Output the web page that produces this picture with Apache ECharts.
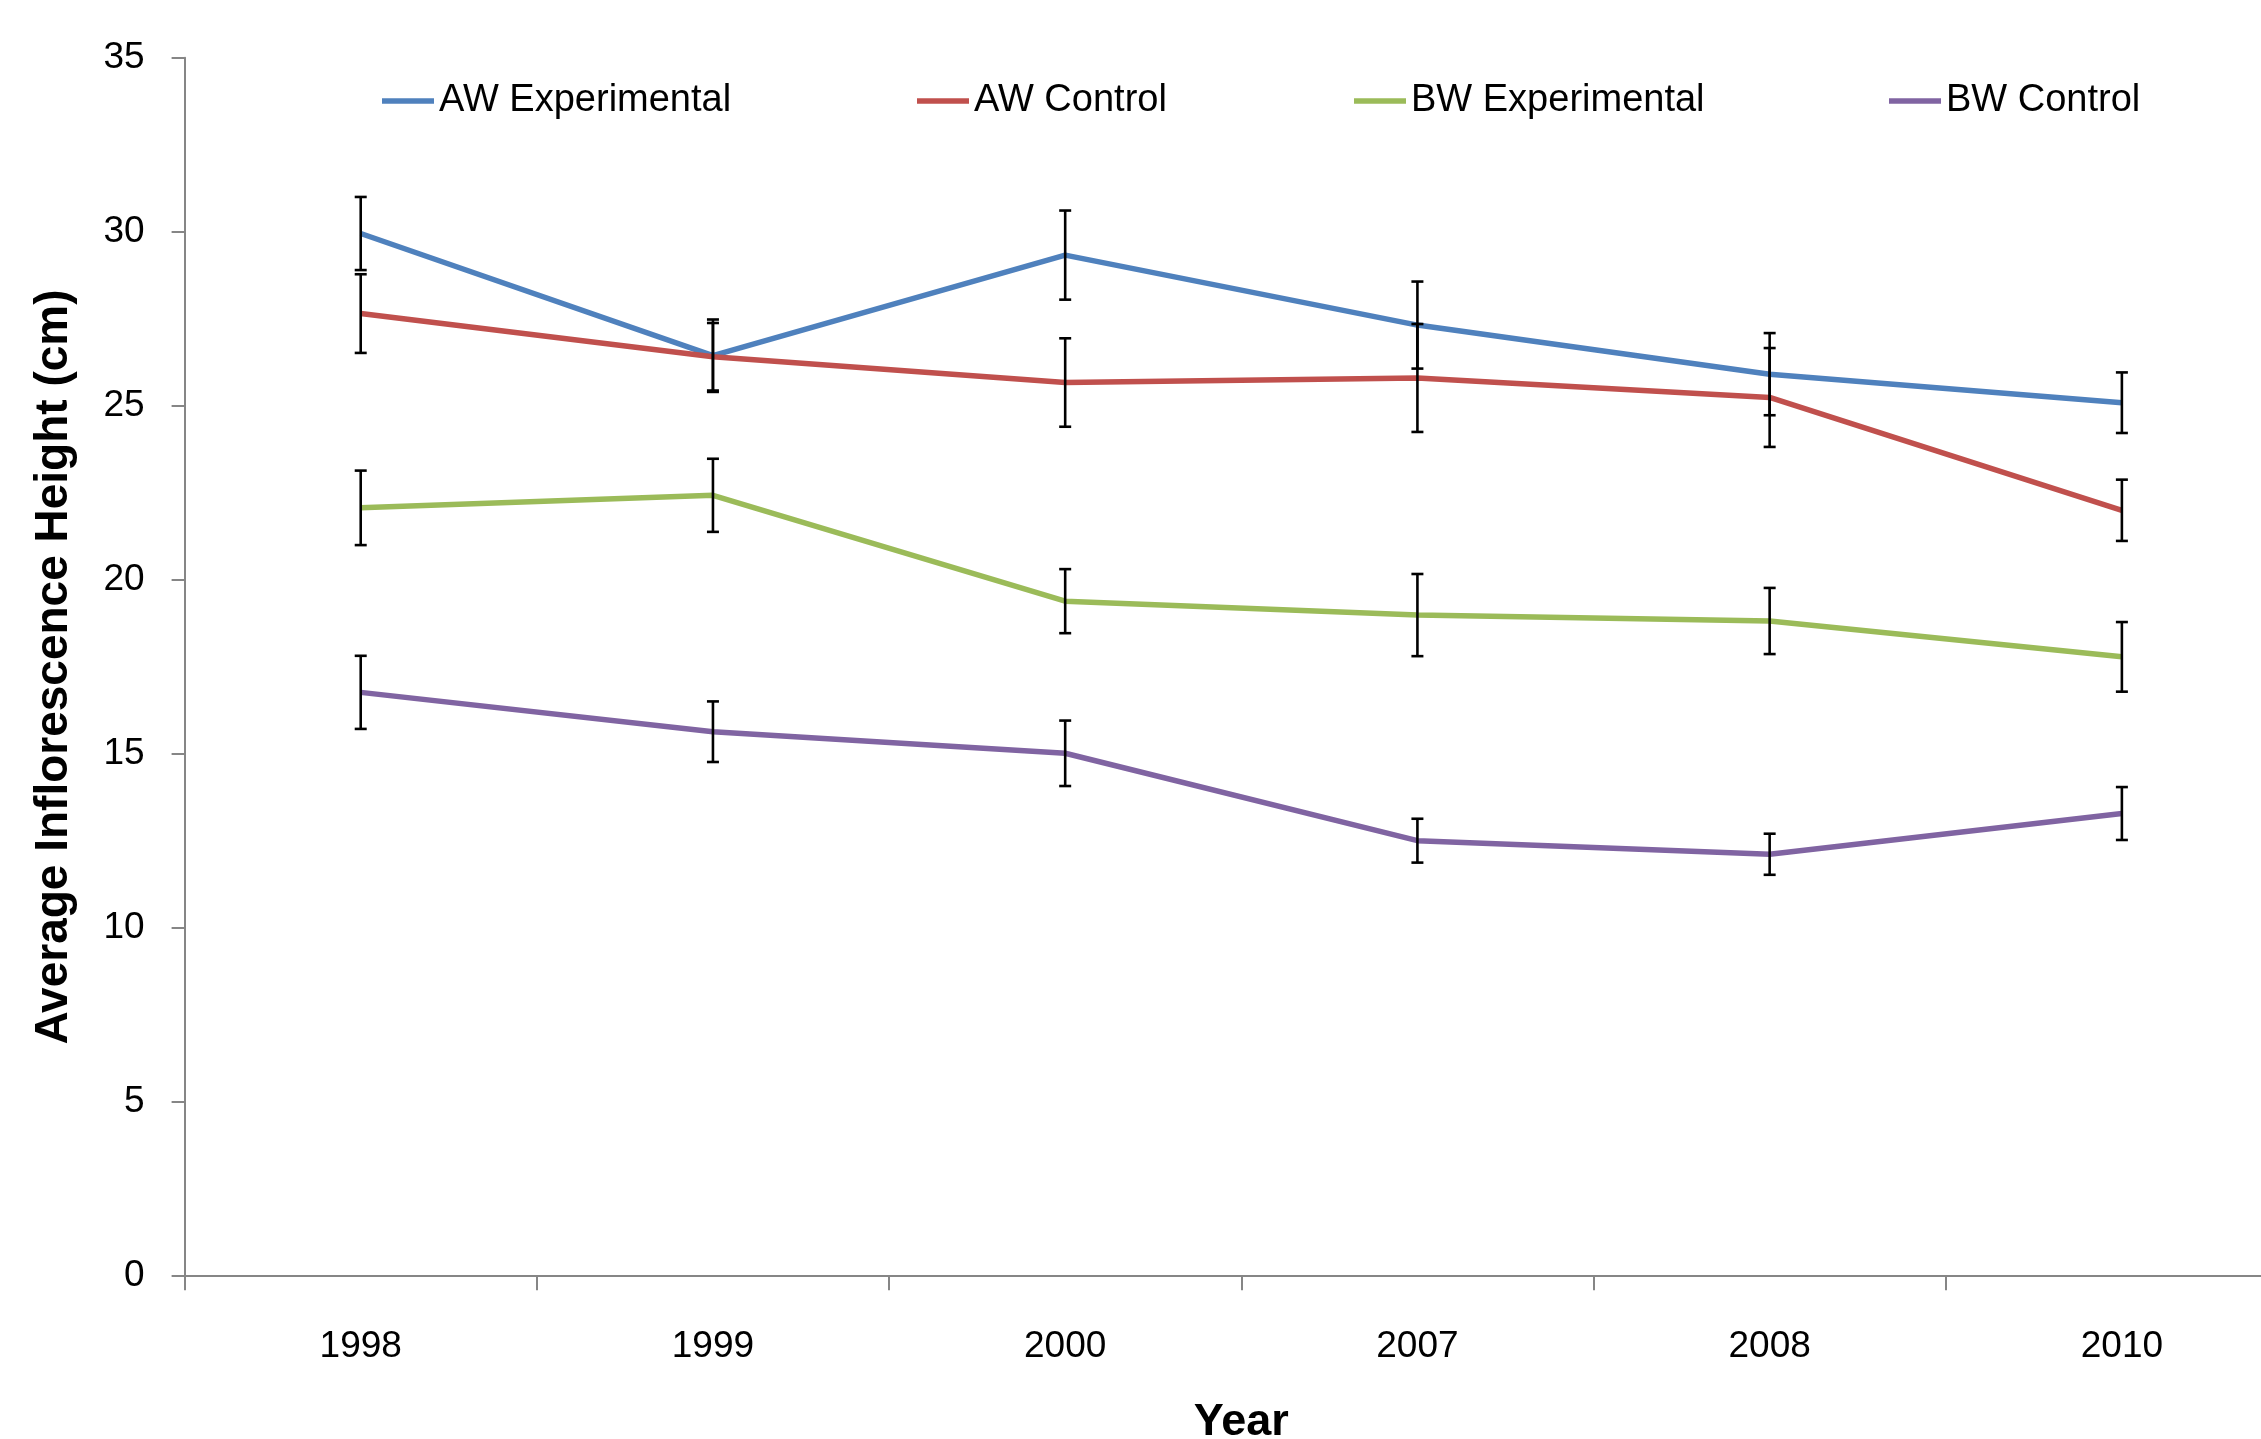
<!DOCTYPE html>
<html>
<head>
<meta charset="utf-8">
<script src="https://cdn.jsdelivr.net/npm/echarts@6/dist/echarts.min.js"></script>
<style>
html,body{margin:0;padding:0;background:#fff;overflow:hidden;}
#chart{width:2261px;height:1439px;}
</style>
</head>
<body>
<div id="chart"></div>
<script>
const categories = ['1998', '1999', '2000', '2007', '2008', '2010'];
const seriesNames = ['AW Experimental', 'AW Control', 'BW Experimental', 'BW Control'];
const awExp    = [29.95, 26.44, 29.33, 27.32, 25.91, 25.09];
const awExpErr = [1.05, 1.04, 1.28, 1.25, 1.18, 0.87];
const awCtl    = [27.65, 26.41, 25.67, 25.80, 25.24, 22.00];
const awCtlErr = [1.13, 0.97, 1.27, 1.55, 1.42, 0.88];
const bwExp    = [22.07, 22.43, 19.39, 18.99, 18.82, 17.79];
const bwExpErr = [1.07, 1.05, 0.92, 1.18, 0.95, 1.00];
const bwCtl    = [16.77, 15.64, 15.02, 12.51, 12.12, 13.29];
const bwCtlErr = [1.05, 0.87, 0.94, 0.63, 0.59, 0.76];
const yTicks = { min: 0, max: 35, interval: 5 };

const colors = ['#4F81BD', '#C0504D', '#9BBB59', '#8064A2'];
const values = [awExp, awCtl, bwExp, bwCtl];
const errors = [awExpErr, awCtlErr, bwExpErr, bwCtlErr];
const FONT = 'Liberation Sans';
const legendLefts = [377, 912, 1349, 1884];

const chart = echarts.init(document.getElementById('chart'));

const lineSeries = seriesNames.map((name, i) => ({
  name: name,
  type: 'line',
  data: values[i],
  symbol: 'none',
  showSymbol: false,
  color: colors[i],
  lineStyle: { width: 5.5, color: colors[i] },
  z: 2
}));

function errRender(params, api) {
  const x = api.value(0), y = api.value(1), e = api.value(2);
  const top = api.coord([x, y + e]);
  const bot = api.coord([x, y - e]);
  const w = 6;
  const st = { stroke: '#000', lineWidth: 2.6 };
  return {
    type: 'group',
    children: [
      { type: 'line', shape: { x1: top[0], y1: top[1], x2: bot[0], y2: bot[1] }, style: st },
      { type: 'line', shape: { x1: top[0] - w, y1: top[1], x2: top[0] + w, y2: top[1] }, style: st },
      { type: 'line', shape: { x1: bot[0] - w, y1: bot[1], x2: bot[0] + w, y2: bot[1] }, style: st }
    ]
  };
}

const errSeries = seriesNames.map((name, i) => ({
  name: name + ' err',
  type: 'custom',
  renderItem: errRender,
  data: values[i].map((v, k) => [k, v, errors[i][k]]),
  encode: { x: 0, y: 1 },
  z: 5,
  silent: true
}));

const legends = seriesNames.map((name, i) => ({
  data: [{ name: name, icon: 'rect' }],
  left: legendLefts[i],
  top: 77,
  orient: 'horizontal',
  itemWidth: 52,
  itemHeight: 5.5,
  itemStyle: { color: colors[i] },
  textStyle: { fontFamily: FONT, fontSize: 38, color: '#000' },
  selectedMode: false
}));

chart.setOption({
  animation: false,
  backgroundColor: '#fff',
  legend: legends,
  grid: { left: 184.6, right: -37, top: 57.7, bottom: 162.8, containLabel: false, outerBoundsMode: 'none' },
  xAxis: {
    type: 'category',
    data: categories,
    boundaryGap: true,
    name: 'Year',
    nameLocation: 'middle',
    nameGap: 124,
    nameTextStyle: { fontFamily: FONT, fontSize: 45, fontWeight: 'bold', color: '#000' },
    axisLine: { lineStyle: { color: '#868686', width: 2 } },
    axisTick: { show: true, alignWithLabel: false, length: 14, lineStyle: { color: '#868686', width: 2 } },
    axisLabel: { fontFamily: FONT, fontSize: 37, color: '#000', margin: 52 },
    splitLine: { show: false }
  },
  yAxis: {
    type: 'value',
    min: yTicks.min,
    max: yTicks.max,
    interval: yTicks.interval,
    name: 'Average Inflorescence Height (cm)',
    nameLocation: 'middle',
    nameGap: 107,
    nameRotate: 90,
    nameTextStyle: { fontFamily: FONT, fontSize: 46, fontWeight: 'bold', color: '#000' },
    axisLine: { show: true, lineStyle: { color: '#868686', width: 2 } },
    axisTick: { show: true, length: 13, lineStyle: { color: '#868686', width: 2 } },
    axisLabel: { fontFamily: FONT, fontSize: 37, color: '#000', margin: 40 },
    splitLine: { show: false }
  },
  series: lineSeries.concat(errSeries)
});
</script>
</body>
</html>
